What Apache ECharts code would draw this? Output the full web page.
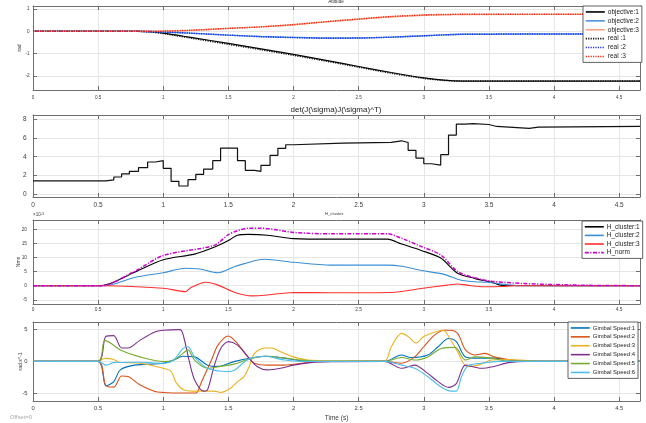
<!DOCTYPE html>
<html>
<head>
<meta charset="utf-8">
<script src="https://cdn.jsdelivr.net/npm/echarts@6/dist/echarts.min.js"></script>
<style>
  html, body { margin: 0; padding: 0; background: #fff; }
  #chart { width: 646px; height: 423px; }
</style>
</head>
<body>
<div id="chart"></div>
<script>
// ---- shared time axis ----
const xTicks = [0, 0.5, 1, 1.5, 2, 2.5, 3, 3.5, 4, 4.5];
const T_END = 4.66;

// ---- Attitude (rad) ----
const attTime    = [0, 0.8, 0.9, 1.0, 1.2, 1.5, 1.75, 2.0, 2.25, 2.5, 2.75, 3.0, 3.15, 3.3, 4.66];
const objective1 = [0, 0, -0.02, -0.08, -0.26, -0.54, -0.78, -1.03, -1.3, -1.57, -1.84, -2.08, -2.18, -2.22, -2.22];
const objective2 = [0, 0, -0.01, -0.03, -0.08, -0.17, -0.23, -0.27, -0.3, -0.3, -0.26, -0.2, -0.16, -0.13, -0.12];
const objective3 = [0, 0, 0.005, 0.01, 0.04, 0.13, 0.2, 0.29, 0.42, 0.54, 0.65, 0.72, 0.74, 0.75, 0.76];
const real1      = [0, 0, -0.03, -0.1, -0.29, -0.58, -0.82, -1.07, -1.33, -1.6, -1.87, -2.1, -2.19, -2.22, -2.22];
const real2      = [0, 0, -0.01, -0.03, -0.08, -0.17, -0.24, -0.28, -0.31, -0.3, -0.26, -0.2, -0.16, -0.13, -0.12];
const real3      = [0, 0, 0.005, 0.01, 0.045, 0.13, 0.2, 0.3, 0.43, 0.55, 0.66, 0.73, 0.75, 0.76, 0.76];
const attTicks   = [-2, -1, 0, 1];

// ---- det(J J^T), piecewise constant ----
const detTime = [0, 0.56, 0.62, 0.68, 0.74, 0.81, 0.88, 0.94, 1.0, 1.06, 1.12, 1.19, 1.25, 1.31, 1.38, 1.44, 1.57, 1.63, 1.70, 1.75,
                 1.82, 1.88, 1.94, 2.0, 2.38, 2.75, 2.83, 2.88, 2.94, 3.0, 3.06, 3.13, 3.19, 3.25, 3.31, 3.38, 3.5, 3.56, 3.81, 3.88, 4.66];
const detVal  = [1.45, 1.55, 1.86, 2.18, 2.46, 2.84, 3.44, 3.58, 2.77, 1.4, 0.91, 1.58, 2.14, 2.7, 3.58, 4.91, 3.58, 2.56, 2.46, 3.09,
                 4.14, 4.88, 5.26, 5.44, 5.52, 5.68, 5.5, 4.67, 3.86, 3.26, 3.12, 4.21, 6.28, 7.44, 7.5, 7.4, 7.19, 6.98, 7.12, 7.19, 7.19];
const detTicks = [0, 2, 4, 6, 8];

// ---- H_cluster (x1e-3 Nms) ----
const h1Time = [0, 0.52, 0.78, 1.0, 1.24, 1.39, 1.5, 1.57, 1.65, 1.8, 2.0, 2.29, 2.72, 2.83, 2.98, 3.13, 3.26, 3.39, 3.52, 3.6, 4.66];
const h1Val  = [0, 0, 4.8, 9.2, 11.2, 13.6, 16, 17.9, 18.2, 17.9, 16.7, 16.5, 16.5, 14.8, 12.5, 9.8, 4.4, 2.6, 1.2, 0.1, 0];
const h2Time = [0, 0.55, 0.78, 1.0, 1.17, 1.28, 1.42, 1.55, 1.78, 2.0, 2.29, 2.72, 2.83, 2.98, 3.15, 3.28, 3.39, 3.49, 3.65, 3.75, 4.66];
const h2Val  = [0, 0, 2.9, 4.6, 6.2, 5.9, 4.6, 6.8, 9.4, 8.3, 7.3, 7.3, 6.9, 5.4, 4.1, 2, 1.4, 1.2, 0.3, 0, 0];
const h3Time = [0, 0.55, 1.0, 1.17, 1.21, 1.33, 1.42, 1.55, 1.68, 1.78, 2.0, 2.29, 2.75, 2.98, 3.18, 3.26, 3.33, 3.46, 3.6, 3.7, 4.66];
const h3Val  = [0, 0, -0.9, -2.1, -0.7, 1.2, 0.2, -2.4, -3.6, -3.4, -2.4, -2.5, -2.4, -1, 0.2, 0.6, 0.2, -0.4, -0.3, 0, 0];
const hnTime = [0, 0.52, 0.78, 1.0, 1.39, 1.5, 1.57, 1.65, 1.75, 2.0, 2.29, 2.72, 2.83, 2.98, 3.13, 3.26, 3.39, 3.52, 3.75, 4.0, 4.3, 4.66];
const hnVal  = [0, 0, 5.1, 10.7, 14.3, 18.1, 19.5, 20.4, 20.4, 18.9, 18.4, 18.4, 16.8, 13.9, 10.9, 5, 2.8, 1.6, 0.8, 0.4, 0.1, 0];
const hTicks = [-5, 0, 5, 10, 15, 20];

// ---- Gimbal speeds (rad/s) ----
const g1Time = [0, 0.5, 0.56, 0.62, 0.67, 0.78, 1.0, 1.08, 1.15, 1.24, 1.34, 1.42, 1.55, 1.7, 1.8, 1.93, 2.06, 2.2, 2.7, 2.83,
                2.9, 3.03, 3.11, 3.19, 3.25, 3.32, 3.42, 3.54, 3.65, 3.8, 4.66];
const g1Val  = [0, 0, -3.85, -3.2, -1.35, -0.6, -0.3, 0.2, 0.8, 0.7, -0.6, -0.8, 0, 0.6, 0.8, 0.5, 0.1, 0, 0, 1.0,
                0.6, 1.0, 2.3, 3.6, 3.1, 0.7, 0.5, 0.5, 0.2, 0, 0];
const g2Time = [0, 0.5, 0.56, 0.62, 0.68, 0.73, 0.82, 0.93, 1.0, 1.14, 1.25, 1.29, 1.37, 1.42, 1.5, 1.57, 1.65, 1.7, 1.8, 1.93,
                2.06, 2.2, 2.7, 2.83, 2.93, 3.0, 3.08, 3.16, 3.2, 3.26, 3.32, 3.39, 3.47, 3.54, 3.65, 3.8, 4.66];
const g2Val  = [0, 0, -3.85, -4.06, -2.3, -2.4, -3.7, -4.7, -4.9, -5.0, -5.0, -3.4, 0.2, 2.55, 4.0, 2.8, 0.7, -0.3, -0.6, -0.6,
                -0.3, 0, 0, -0.3, 0.7, 2.3, 4.1, 4.9, 4.9, 4.4, 1.8, 1.0, 1.25, 0.7, 0.3, 0, 0];
const g3Time = [0, 0.5, 0.55, 0.62, 0.66, 0.82, 1.0, 1.06, 1.1, 1.16, 1.26, 1.39, 1.44, 1.52, 1.57, 1.62, 1.66, 1.7, 1.78, 1.83,
                1.9, 2.0, 2.11, 2.29, 2.7, 2.75, 2.83, 2.88, 2.94, 3.0, 3.08, 3.15, 3.2, 3.26, 3.33, 3.42, 3.52, 3.65, 3.9, 4.66];
const g3Val  = [0, 0, 0.47, 0.3, -0.15, -0.3, -1.1, -1.6, -3.4, -4.5, -4.7, -4.7, -4.9, -4.2, -3.2, -2.4, -0.8, 1.25, 2.1, 2.1,
                1.5, 0.7, 0.2, 0.1, 0.1, 2.3, 4.4, 3.9, 2.9, 3.9, 4.6, 4.9, 3.6, 1.5, -0.8, -0.6, 0.2, 0.3, 0, 0];
const g4Time = [0, 0.5, 0.56, 0.62, 0.68, 0.73, 0.82, 0.93, 1.0, 1.13, 1.16, 1.2, 1.24, 1.31, 1.34, 1.39, 1.44, 1.5, 1.57, 1.65,
                1.72, 1.8, 1.9, 2.0, 2.13, 2.29, 2.7, 2.83, 2.93, 3.03, 3.11, 3.19, 3.25, 3.32, 3.44, 3.54, 3.65, 3.8, 4.66];
const g4Val  = [0, 0, 3.96, 4.06, 2.1, 2.1, 3.3, 4.6, 4.9, 5.0, 3.6, 0.0, -2.9, -4.7, -4.5, -0.8, 2.0, 3.1, 2.55, 0.7,
                -0.8, -1.35, -1.1, -0.6, -0.2, -0.05, 0, -1.1, -0.6, -1.9, -3.2, -4.1, -3.5, -0.6, -1.1, -0.8, -0.2, 0, 0];
const g5Time = [0, 0.5, 0.55, 0.6, 0.67, 0.82, 1.0, 1.08, 1.15, 1.19, 1.24, 1.34, 1.44, 1.55, 1.65, 1.78, 1.9, 2.06, 2.2, 2.7,
                2.83, 2.93, 3.03, 3.13, 3.24, 3.32, 3.39, 3.52, 3.65, 4.66];
const g5Val  = [0, 0, 3.3, 2.8, 1.8, 0.7, -0.05, 0.2, 1.25, 1.8, 0.2, -1.1, -0.8, -0.4, 0.3, 0.8, 0.6, 0.2, 0, 0,
                0.6, 0.2, 0.7, 2.0, 2.2, 0.2, 0.7, 0.5, 0.05, 0];
const g6Time = [0, 0.5, 0.56, 0.62, 0.82, 1.0, 1.08, 1.15, 1.19, 1.24, 1.34, 1.49, 1.55, 1.65, 1.78, 1.93, 2.06, 2.7, 2.83, 2.93,
                3.03, 3.13, 3.21, 3.25, 3.29, 3.34, 3.44, 3.57, 4.66];
const g6Val  = [0, 0, -0.6, -0.2, -0.15, -0.3, 0.2, 2.0, 2.3, 0.7, -1.1, -1.6, -1.35, 0.3, 0.8, 0.2, 0, 0, -0.6, -1.1,
                -2.4, -4.0, -4.7, -4.7, -2.4, -0.7, -0.3, 0, 0];
const gTicks = [-5, 0, 5];

// ---- styling ----
const FONT = '"Liberation Sans", Arial, Helvetica, sans-serif';
const AXIS_COLOR = '#6f6f6f';
const GRID_COLOR = '#e6e6e6';
const TEXT_COLOR = '#3c3c3c';

const pairs = (t, v) => t.map((x, i) => [x, v[i]]);

// one entry per subplot: vertical placement, y range and label sizes
const panels = [
  { top: 6,   height: 84, yMin: -2.62, yMax: 1.13, yTicks: attTicks, font: 4.6, xMargin: 5,   yMargin: 3.5, yName: 'rad',      yNameGap: 10.5 },
  { top: 115, height: 82, yMin: -0.25, yMax: 8.4,  yTicks: detTicks, font: 6.5, xMargin: 5,   yMargin: 6.5, yName: '',         yNameGap: 10 },
  { top: 220, height: 84, yMin: -6.5,  yMax: 23.3, yTicks: hTicks,   font: 4.8, xMargin: 3,   yMargin: 6,   yName: 'Nms',      yNameGap: 12 },
  { top: 322, height: 79, yMin: -6.25, yMax: 6.2,  yTicks: gTicks,   font: 5.8, xMargin: 4.5, yMargin: 5.5, yName: 'rad.s^-1', yNameGap: 10 }
];

const grid = panels.map(p => ({ left: 33, right: 6, top: p.top, height: p.height }));

const xAxis = [];
const yAxis = [];
panels.forEach((p, i) => {
  xAxis.push({
    type: 'value', gridIndex: i, min: 0, max: T_END, position: 'bottom',
    name: i === 3 ? 'Time (s)' : '', nameLocation: 'middle', nameGap: 14, nameMoveOverlap: false,
    nameTextStyle: { fontSize: 6.5, color: TEXT_COLOR, fontFamily: FONT },
    axisLine: { show: true, onZero: false, lineStyle: { color: AXIS_COLOR, width: 1 } },
    axisTick: { show: true, inside: true, length: 4, customValues: xTicks, lineStyle: { color: AXIS_COLOR } },
    axisLabel: { show: true, customValues: xTicks, fontSize: p.font, color: TEXT_COLOR, margin: p.xMargin, fontFamily: FONT },
    splitLine: { show: true, lineStyle: { color: GRID_COLOR, width: 1 } }
  });
  yAxis.push({
    type: 'value', gridIndex: i, min: p.yMin, max: p.yMax, position: 'left',
    name: p.yName, nameLocation: 'middle', nameGap: p.yNameGap, nameMoveOverlap: false,
    nameTextStyle: { fontSize: 5, color: TEXT_COLOR, fontFamily: FONT },
    axisLine: { show: true, onZero: false, lineStyle: { color: AXIS_COLOR, width: 1 } },
    axisTick: { show: true, inside: true, length: 4, customValues: p.yTicks, lineStyle: { color: AXIS_COLOR } },
    axisLabel: { show: true, customValues: p.yTicks, fontSize: p.font, color: TEXT_COLOR, margin: p.yMargin, fontFamily: FONT },
    splitLine: { show: true, lineStyle: { color: GRID_COLOR, width: 1 } }
  });
});
// box edges (top / right) with inward ticks
panels.forEach((p, i) => {
  xAxis.push({
    type: 'value', gridIndex: i, min: 0, max: T_END, position: 'top',
    axisLine: { show: true, onZero: false, lineStyle: { color: AXIS_COLOR, width: 1 } },
    axisTick: { show: true, inside: true, length: 4, customValues: xTicks, lineStyle: { color: AXIS_COLOR } },
    axisLabel: { show: false, customValues: xTicks },
    splitLine: { show: false }
  });
  yAxis.push({
    type: 'value', gridIndex: i, min: p.yMin, max: p.yMax, position: 'right',
    axisLine: { show: true, onZero: false, lineStyle: { color: AXIS_COLOR, width: 1 } },
    axisTick: { show: true, inside: true, length: 4, customValues: p.yTicks, lineStyle: { color: AXIS_COLOR } },
    axisLabel: { show: false, customValues: p.yTicks },
    splitLine: { show: false }
  });
});

function line(name, panel, t, v, color, width, type, extra) {
  return Object.assign({
    type: 'line', name: name, xAxisIndex: panel, yAxisIndex: panel,
    data: pairs(t, v), symbol: 'none', showSymbol: false, animation: false,
    color: color,
    lineStyle: { color: color, width: width, type: type || 'solid' },
    itemStyle: { color: color }
  }, extra || {});
}

const series = [
  line('objective:1', 0, attTime, objective1, '#000000', 1.2, 'solid', { smooth: 0.3 }),
  line('objective:2', 0, attTime, objective2, '#4a93d8', 1.4, 'solid', { smooth: 0.3 }),
  line('objective:3', 0, attTime, objective3, '#f6a183', 1.4, 'solid', { smooth: 0.3 }),
  line('real :1', 0, attTime, real1, '#111111', 1.5, [1.2, 1.2], { smooth: 0.3 }),
  line('real :2', 0, attTime, real2, '#1b2dff', 1.5, [1.2, 1.2], { smooth: 0.3 }),
  line('real :3', 0, attTime, real3, '#ff2410', 1.5, [1.2, 1.2], { smooth: 0.3 }),

  line('det', 1, detTime, detVal, '#111111', 1.2, 'solid', { step: 'end' }),

  line('H_cluster:1', 2, h1Time, h1Val, '#000000', 1.1, 'solid', { smooth: 0.3 }),
  line('H_cluster:2', 2, h2Time, h2Val, '#3a8fd3', 1.1, 'solid', { smooth: 0.3 }),
  line('H_cluster:3', 2, h3Time, h3Val, '#ff2e2e', 1.1, 'solid', { smooth: 0.3 }),
  line('H_norm', 2, hnTime, hnVal, '#cc00cc', 1.5, [4, 1.5, 1.2, 1.5], { smooth: 0.3 }),

  line('Gimbal Speed:1', 3, g1Time, g1Val, '#0072BD', 1.1, 'solid', { smooth: 0.3 }),
  line('Gimbal Speed:2', 3, g2Time, g2Val, '#D95319', 1.1, 'solid', { smooth: 0.3 }),
  line('Gimbal Speed:3', 3, g3Time, g3Val, '#EDB120', 1.1, 'solid', { smooth: 0.3 }),
  line('Gimbal Speed:4', 3, g4Time, g4Val, '#7E2F8E', 1.1, 'solid', { smooth: 0.3 }),
  line('Gimbal Speed:5', 3, g5Time, g5Val, '#77AC30', 1.1, 'solid', { smooth: 0.3 }),
  line('Gimbal Speed:6', 3, g6Time, g6Val, '#4DBEEE', 1.1, 'solid', { smooth: 0.3 })
];

function legend(names, left, top, itemH, fontSize) {
  return {
    data: names, orient: 'vertical', left: left, top: top,
    itemWidth: 19, itemHeight: itemH, itemGap: 1, padding: [2, 3, 2, 2],
    borderColor: '#3a3a3a', borderWidth: 0.8, backgroundColor: '#ffffff', borderRadius: 0,
    selectedMode: false,
    itemStyle: { opacity: 0, borderWidth: 0 },
    lineStyle: { width: 1.6 },
    textStyle: { fontSize: fontSize, color: '#222', fontFamily: FONT, lineHeight: itemH, padding: [0, 0, 0, -2] }
  };
}

const option = {
  backgroundColor: '#ffffff',
  animation: false,
  grid: grid,
  xAxis: xAxis,
  yAxis: yAxis,
  legend: [
    legend(['objective:1', 'objective:2', 'objective:3', 'real :1', 'real :2', 'real :3'], 583, 6, 7.9, 6.5),
    legend(['H_cluster:1', 'H_cluster:2', 'H_cluster:3', 'H_norm'], 582, 221, 7.6, 6.5),
    legend(['Gimbal Speed:1', 'Gimbal Speed:2', 'Gimbal Speed:3', 'Gimbal Speed:4', 'Gimbal Speed:5', 'Gimbal Speed:6'], 568, 322, 7.9, 5.9)
  ],
  title: [
    { text: 'Attitude', left: 336, textAlign: 'center', top: -1, padding: 0,
      textStyle: { fontSize: 4.6, fontWeight: 'normal', color: '#333', fontFamily: FONT } },
    { text: 'det(J(\\sigma)J(\\sigma)^T)', left: 336, textAlign: 'center', top: 106, padding: 0,
      textStyle: { fontSize: 8, fontWeight: 'normal', color: '#222', fontFamily: FONT } },
    { text: 'H_cluster', left: 334, textAlign: 'center', top: 212, padding: 0,
      textStyle: { fontSize: 4.4, fontWeight: 'normal', color: '#333', fontFamily: FONT } },
    { text: '×10{sup|-3}', left: 33, top: 212, padding: 0,
      textStyle: { fontSize: 4.6, fontWeight: 'normal', color: '#444', fontFamily: FONT,
        rich: { sup: { fontSize: 3.6, verticalAlign: 'top', color: '#444', fontFamily: FONT, padding: [0, 0, 2, 0] } } } }
  ],
  graphic: [
    { type: 'text', left: 10, top: 414, silent: true,
      style: { text: 'Offset=0', fontSize: 5.8, fill: '#a8a8a8', fontFamily: FONT } }
  ],
  series: series
};

const chart = echarts.init(document.getElementById('chart'), null, { renderer: 'canvas' });
chart.setOption(option);
</script>
</body>
</html>
